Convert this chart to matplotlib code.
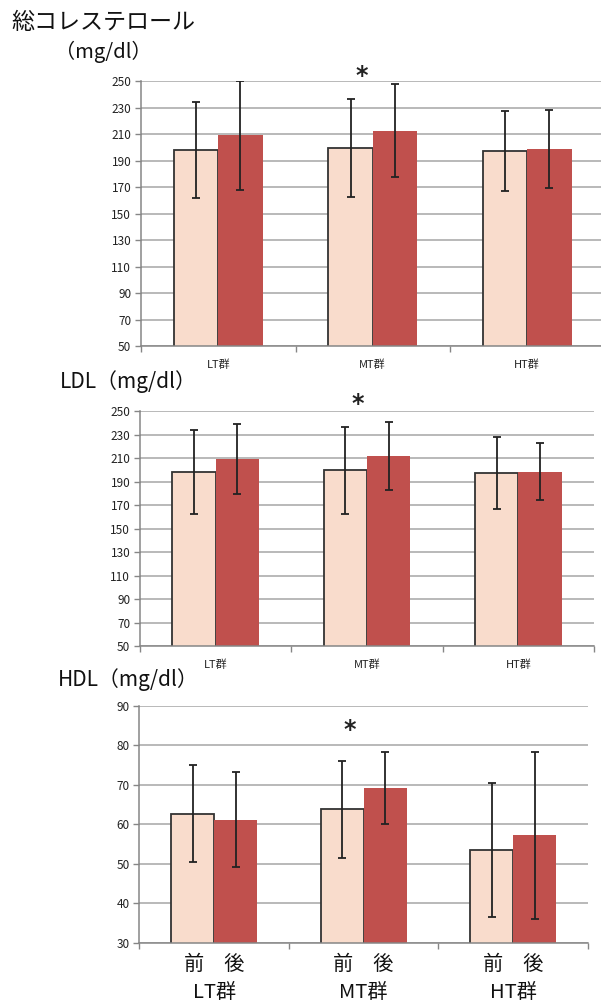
import numpy as np
import matplotlib
matplotlib.use("Agg")
import matplotlib.pyplot as plt

plt.rcParams['font.family'] = ['Noto Sans CJK JP', 'DejaVu Sans']

# data
groups = ["LT群", "MT群", "HT群"]

tc_pre = [198, 199.5, 197]
tc_pre_sd = [36, 37, 30]
tc_post = [209, 212.5, 198.5]
tc_post_sd = [41, 35, 29.5]

ldl_pre = [198, 199.5, 197]
ldl_pre_sd = [36, 37, 30.5]
ldl_post = [209, 212, 198.5]
ldl_post_sd = [30, 29, 24]

hdl_pre = [62.7, 63.8, 53.6]
hdl_pre_sd = [12.2, 12.3, 16.9]
hdl_post = [61.2, 69.3, 57.2]
hdl_post_sd = [12, 9.1, 21.1]

pre_color = "#F9DCCC"
post_color = "#C0504D"
grid_color = "#A6A6A6"

W, H = 601, 1005
fig = plt.figure(figsize=(W / 100, H / 100), dpi=100)


def px_axes(left, right, top, bottom):
    return fig.add_axes([left / W, 1 - bottom / H, (right - left) / W, (bottom - top) / H])


def draw_panel(ax, pre, pre_sd, post, post_sd, ylo, yhi, ystep, star_xy, big_labels):
    x = np.arange(len(groups))
    bw = 0.287
    ax.bar(x - bw / 2, pre, bw, color=pre_color, edgecolor="#333333", linewidth=1.3, zorder=2)
    ax.bar(x + bw / 2, post, bw, color=post_color, edgecolor="none", zorder=2)
    ax.errorbar(x - bw / 2, pre, yerr=pre_sd, fmt="none", ecolor="#222222",
                elinewidth=1.3, capsize=2.6, capthick=1.3, zorder=3)
    ax.errorbar(x + bw / 2, post, yerr=post_sd, fmt="none", ecolor="#222222",
                elinewidth=1.3, capsize=2.6, capthick=1.3, zorder=3)

    ax.set_xlim(-0.5, len(groups) - 0.5)
    ax.set_ylim(ylo, yhi)
    ax.set_yticks(np.arange(ylo, yhi + 1, ystep))
    ax.yaxis.grid(True, color=grid_color, linewidth=1.1)
    ax.set_axisbelow(True)
    for s in ["top", "right"]:
        ax.spines[s].set_visible(False)
    for s in ["left", "bottom"]:
        ax.spines[s].set_color("#868686")
        ax.spines[s].set_linewidth(1.1)
    ax.tick_params(axis="y", length=4, width=1.0, color="#868686", labelsize=8.5, pad=3,
                   labelcolor="#222222")

    ax.set_xticks(x)
    if big_labels:
        ax.set_xticklabels(["前\u3000後\n" + g for g in groups], fontsize=14.5, linespacing=1.42)
        ax.tick_params(axis="x", which="major", length=0, pad=8, labelcolor="#111111")
    else:
        ax.set_xticklabels(groups, fontsize=8)
        ax.tick_params(axis="x", which="major", length=0, pad=10, labelcolor="#222222")
    ax.set_xticks(np.arange(-0.5, len(groups), 1.0), minor=True)
    ax.tick_params(axis="x", which="minor", length=4, width=1.0, color="#868686")

    ax.text(star_xy[0], star_xy[1], "*", fontsize=17, fontweight="bold", ha="center", va="center",
            color="#222222", family="DejaVu Sans")


ax1 = px_axes(141, 604.5, 81, 346)
draw_panel(ax1, tc_pre, tc_pre_sd, tc_post, tc_post_sd, 50, 250, 20, (0.93, 253.5), False)

ax2 = px_axes(140, 594, 411, 646)
draw_panel(ax2, ldl_pre, ldl_pre_sd, ldl_post, ldl_post_sd, 50, 250, 20, (0.94, 256), False)

ax3 = px_axes(139.3, 588, 705.7, 943)
draw_panel(ax3, hdl_pre, hdl_pre_sd, hdl_post, hdl_post_sd, 30, 90, 10, (0.91, 83.8), True)

fig.text(11 / W, 1 - 22.5 / H, "総コレステロール", fontsize=16.6, va="center", ha="left", color="#111111")
fig.text(55 / W, 1 - 52 / H, "（mg/dl）", fontsize=14.5, va="center", ha="left", color="#111111")
fig.text(60 / W, 1 - 382 / H, "LDL（mg/dl）", fontsize=15, va="center", ha="left", color="#111111")
fig.text(58 / W, 1 - 680 / H, "HDL（mg/dl）", fontsize=15, va="center", ha="left", color="#111111")

fig.savefig("out.png", dpi=100)
